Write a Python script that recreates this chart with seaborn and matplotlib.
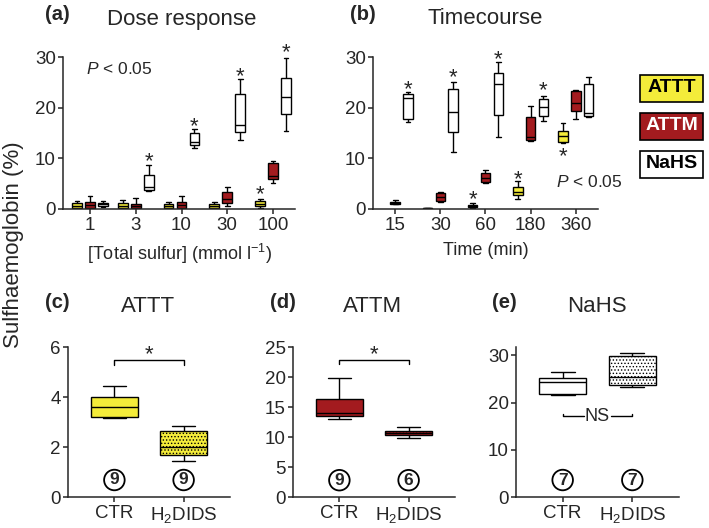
import numpy as np
import pandas as pd
import matplotlib
matplotlib.use("Agg")
import matplotlib.pyplot as plt
from matplotlib.patches import Rectangle
import seaborn as sns

# ---------------- data ----------------
compounds = ["ATTT", "ATTM", "NaHS"]
colors = ["#F4EC3A", "#A31B1F", "#FFFFFF"]
doses = ["1", "3", "10", "30", "100"]
times = ["15", "30", "60", "180", "360"]

# five-number summaries: whisker low, Q1, median, Q3, whisker high
dose_attt = [[0, 0.2, 0.6, 1.1, 1.6], [0, 0.2, 0.6, 1.1, 1.8], [0, 0.2, 0.6, 1.0, 1.4],
             [0, 0.2, 0.6, 1.0, 1.4], [0.2, 0.6, 1.0, 1.5, 2.0]]
dose_attm = [[0, 0.2, 0.7, 1.3, 2.6], [0, 0.1, 0.5, 1.0, 2.2], [0, 0.2, 0.8, 1.3, 2.5],
             [0.5, 1.1, 2.0, 3.3, 4.3], [5.2, 6.0, 6.5, 9.0, 9.5]]
dose_nahs = [[0.4, 0.65, 0.95, 1.2, 1.5], [3.6, 3.8, 4.4, 6.7, 8.7], [12.0, 12.6, 13.3, 15.0, 15.7],
             [13.6, 15.1, 16.6, 22.6, 25.6], [15.4, 18.7, 22.2, 25.9, 29.9]]

time_attt = [None, [0, 0.05, 0.1, 0.15, 0.2], [0.1, 0.3, 0.5, 0.7, 1.1],
             [2.0, 2.8, 3.4, 4.4, 5.6], [13.1, 13.3, 14.4, 15.4, 17.0]]
time_attm = [[0.9, 1.0, 1.2, 1.4, 1.8], [1.4, 1.6, 2.3, 3.2, 3.4], [5.1, 5.4, 6.2, 7.2, 7.6],
             [13.4, 13.6, 14.3, 18.2, 20.4], [17.7, 19.3, 21.0, 23.2, 23.4]]
time_nahs = [[17.2, 17.7, 22.0, 22.7, 23.0], [11.3, 15.1, 19.2, 23.6, 25.0], [14.3, 18.6, 24.6, 26.8, 29.1],
             [17.4, 18.4, 20.2, 21.7, 22.4], [18.1, 18.3, 19.0, 24.6, 26.0]]

dose_stars = [("NaHS", "3", 10.6), ("NaHS", "10", 17.5), ("NaHS", "30", 27.4),
              ("NaHS", "100", 32.0), ("ATTT", "100", 4.1)]
time_stars = [("NaHS", "15", 24.8), ("NaHS", "30", 27.1), ("ATTT", "60", 3.0),
              ("NaHS", "60", 30.7), ("NaHS", "180", 24.5), ("ATTT", "180", 7.0),
              ("ATTT", "360", 11.6)]

treatments = ["CTR", "H$_2$DIDS"]
attt_inhib = [[3.15, 3.2, 3.6, 4.0, 4.45], [1.45, 1.68, 2.0, 2.64, 2.84]]
attm_inhib = [[13.0, 13.55, 14.05, 16.3, 19.9], [9.9, 10.35, 10.7, 11.05, 11.6]]
nahs_inhib = [[21.7, 21.9, 24.4, 25.2, 26.6], [23.3, 23.8, 25.5, 29.8, 30.5]]
n_attt = [9, 9]
n_attm = [9, 6]
n_nahs = [7, 7]

# ---------------- style ----------------
sns.set_style("ticks")
plt.rcParams["font.family"] = ["Liberation Sans", "DejaVu Sans"]
plt.rcParams["mathtext.fontset"] = "custom"
plt.rcParams["mathtext.rm"] = "Liberation Sans"
plt.rcParams["mathtext.it"] = "Liberation Sans:italic"
plt.rcParams["mathtext.bf"] = "Liberation Sans:bold"
plt.rcParams["hatch.linewidth"] = 0.6
plt.rcParams["axes.linewidth"] = 1.1
plt.rcParams["xtick.major.width"] = 1.1
plt.rcParams["ytick.major.width"] = 1.1
plt.rcParams["xtick.major.size"] = 3.6
plt.rcParams["ytick.major.size"] = 3.6
plt.rcParams["xtick.major.pad"] = 2
plt.rcParams["ytick.major.pad"] = 1.5
plt.rcParams["xtick.labelsize"] = 13.5
plt.rcParams["ytick.labelsize"] = 13.5

W, H = 709, 528
fig = plt.figure(figsize=(W / 100, H / 100), dpi=100)


def px_axes(left, right, top, bottom):
    return fig.add_axes([left / W, 1 - bottom / H, (right - left) / W, (bottom - top) / H])


def long_df(cats, series):
    rows = []
    for comp, lst in series.items():
        for cat, vals in zip(cats, lst):
            if vals is None:
                continue
            for v in vals:
                rows.append((cat, comp, v))
    return pd.DataFrame(rows, columns=["cat", "compound", "value"])


def star(ax, x, y):
    ax.annotate("*", (x, y), xytext=(0, -4.5), textcoords="offset points",
                ha="center", va="center", fontsize=16, annotation_clip=False)


palette = dict(zip(compounds, colors))
HW = 0.85
offsets = {c: (i - 1) * HW / 3 for i, c in enumerate(compounds)}


def top_panel(ax, cats, series, stars):
    df = long_df(cats, series)
    sns.boxplot(data=df, x="cat", y="value", hue="compound", order=cats, hue_order=compounds,
                palette=palette, saturation=1, whis=(0, 100), width=HW, gap=0.25,
                linecolor="black", linewidth=1.0, legend=False, ax=ax)
    for comp, cat, y in stars:
        star(ax, cats.index(cat) + offsets[comp], y)
    ax.set_ylim(0, 30)
    ax.set_yticks([0, 10, 20, 30])
    ax.set_ylabel("")
    sns.despine(ax=ax)


# (a) dose response
axa = px_axes(63, 295, 57, 209)
top_panel(axa, doses, {"ATTT": dose_attt, "ATTM": dose_attm, "NaHS": dose_nahs}, dose_stars)
axa.set_xlim(-0.59, 4.48)
axa.set_xlabel("[Total sulfur] (mmol l$^{-1}$)", fontsize=13, labelpad=6)
axa.text(-0.09, 27.6, "$P$ < 0.05", fontsize=12.5, va="center", ha="left")

# (b) timecourse
axb = px_axes(373, 598, 57, 209)
top_panel(axb, times, {"ATTT": time_attt, "ATTM": time_attm, "NaHS": time_nahs}, time_stars)
axb.set_xlim(-0.49, 4.49)
axb.set_xlabel("Time (min)", fontsize=13, labelpad=6)
axb.text(3.55, 5.3, "$P$ < 0.05", fontsize=12.5, va="center", ha="left")


def bottom_panel(ax, vals, color, hatch, ns, ylim, yticks, circ_y):
    df = pd.DataFrame([(t, v) for t, lst in zip(treatments, vals) for v in lst],
                      columns=["treatment", "value"])
    sns.boxplot(data=df, x="treatment", y="value", order=treatments, color=color,
                saturation=1, whis=(0, 100), width=0.68, linecolor="black",
                linewidth=1.0, ax=ax)
    ax.patches[1].set_hatch(hatch)
    for i, n in enumerate(ns):
        ax.text(i, circ_y, str(n), ha="center", va="center", fontsize=12.5, fontweight="bold",
                bbox=dict(boxstyle="circle,pad=0.16", fc="none", ec="black", lw=1.3))
    ax.set_ylim(*ylim)
    ax.set_yticks(yticks)
    ax.set_xlim(-0.67, 1.67)
    ax.set_xlabel("")
    ax.set_ylabel("")
    sns.despine(ax=ax)


axc = px_axes(68, 230, 347, 497)
bottom_panel(axc, attt_inhib, colors[0], ".....", n_attt, (0, 6), [0, 2, 4, 6], 0.68)
axc.plot([0, 0, 1, 1], [5.3, 5.5, 5.5, 5.3], color="black", lw=1.0)
star(axc, 0.5, 5.95)

axd = px_axes(293, 455, 347, 497)
bottom_panel(axd, attm_inhib, colors[1], ".....", n_attm, (0, 25), [0, 5, 10, 15, 20, 25], 2.8)
axd.plot([0, 0, 1, 1], [22.2, 22.9, 22.9, 22.2], color="black", lw=1.0)
star(axd, 0.5, 24.8)

axe = px_axes(516, 679, 347, 497)
bottom_panel(axe, nahs_inhib, colors[2], ".....", n_nahs, (0, 31.8), [0, 10, 20, 30], 3.6)
axe.plot([0, 0, 0.3], [17.6, 17.1, 17.1], color="black", lw=1.0)
axe.plot([0.7, 1, 1], [17.1, 17.1, 17.6], color="black", lw=1.0)
axe.text(0.5, 17.1, "NS", ha="center", va="center", fontsize=13)

# titles
def ftext(x, y, s, **kw):
    fig.text(x / W, 1 - y / H, s, **kw)

ftext(45, 15, "(a)", fontsize=14.5, fontweight="bold", va="center", ha="left")
ftext(182, 20, "Dose response", fontsize=16, va="center", ha="center")
ftext(350, 15, "(b)", fontsize=14.5, fontweight="bold", va="center", ha="left")
ftext(485, 19, "Timecourse", fontsize=16, va="center", ha="center")
ftext(45, 303, "(c)", fontsize=14.5, fontweight="bold", va="center", ha="left")
ftext(148, 306, "ATTT", fontsize=16, va="center", ha="center")
ftext(270, 303, "(d)", fontsize=14.5, fontweight="bold", va="center", ha="left")
ftext(373, 306, "ATTM", fontsize=16, va="center", ha="center")
ftext(492, 303, "(e)", fontsize=14.5, fontweight="bold", va="center", ha="left")
ftext(597, 306, "NaHS", fontsize=16, va="center", ha="center")

ftext(14, 245, "Sulfhaemoglobin (%)", fontsize=16, rotation=90, va="center", ha="center")

# legend
leg_y = [88, 126, 164]
for comp, col, yc in zip(compounds, colors, leg_y):
    fig.patches.append(Rectangle((640 / W, 1 - (yc + 13.5) / H), 63 / W, 27 / H,
                                 transform=fig.transFigure, fc=col, ec="black", lw=1.2))
    ftext(671.5, yc, comp, fontsize=14, fontweight="bold", ha="center", va="center",
          color="white" if comp == "ATTM" else "black")

fig.savefig("out.png", dpi=100)
